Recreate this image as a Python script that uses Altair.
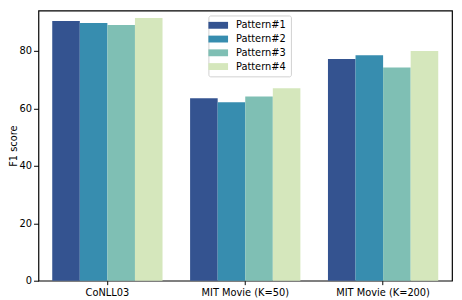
import altair as alt
import pandas as pd

datasets = ["CoNLL03", "MIT Movie (K=50)", "MIT Movie (K=200)"]
patterns = ["Pattern#1", "Pattern#2", "Pattern#3", "Pattern#4"]
scores = {
    "Pattern#1": [90.5, 63.6, 77.2],
    "Pattern#2": [89.8, 62.2, 78.5],
    "Pattern#3": [89.1, 64.2, 74.3],
    "Pattern#4": [91.5, 67.0, 80.0],
}
colors = ["#345390", "#378daf", "#7fbfb4", "#d5e7bc"]
y_ticks = [0, 20, 40, 60, 80]

rows = []
for p in patterns:
    for d, v in zip(datasets, scores[p]):
        rows.append({"dataset": d, "pattern": p, "score": v})
df = pd.DataFrame(rows)

font = "DejaVu Sans"

chart = alt.Chart(df).mark_bar().encode(
    x=alt.X("dataset:N", sort=datasets, title=None,
            scale=alt.Scale(paddingInner=0.2, paddingOuter=0.1),
            axis=alt.Axis(labelAngle=0, domain=False, tickColor="black",
                          tickSize=4, labelPadding=3, labelColor="black",
                          labelFontSize=10, labelFont=font)),
    xOffset=alt.XOffset("pattern:N", sort=patterns,
                        scale=alt.Scale(paddingInner=0, paddingOuter=0)),
    y=alt.Y("score:Q", title="F1 score",
            scale=alt.Scale(domain=[0, 94.1], nice=False, zero=True),
            axis=alt.Axis(values=y_ticks, grid=False, domain=False,
                          tickColor="black", tickSize=5, labelPadding=2,
                          labelColor="black", labelFontSize=10, labelFont=font,
                          titleFont=font, titleFontSize=10, titleColor="black",
                          titleFontWeight="normal", titlePadding=1)),
    color=alt.Color("pattern:N", sort=patterns,
                    scale=alt.Scale(domain=patterns, range=colors),
                    legend=alt.Legend(title=None, orient="none", legendX=173, legendY=5,
                                      symbolType="M-2,-0.7L2,-0.7L2,0.7L-2,0.7Z",
                                      symbolSize=100, symbolStrokeWidth=0,
                                      labelOffset=13, rowPadding=4,
                                      labelFont=font, labelFontSize=10, labelColor="black",
                                      strokeColor="#d0d0d0", fillColor="white",
                                      padding=5, cornerRadius=2)),
).properties(
    width=421, height=275,
    autosize=alt.AutoSizeParams(type="none"),
    padding={"left": 31, "top": 0, "right": 2, "bottom": 16},
).configure_view(stroke="black", strokeWidth=1.2)

chart.save("out.html", embed_options={"renderer": "svg", "actions": False})
